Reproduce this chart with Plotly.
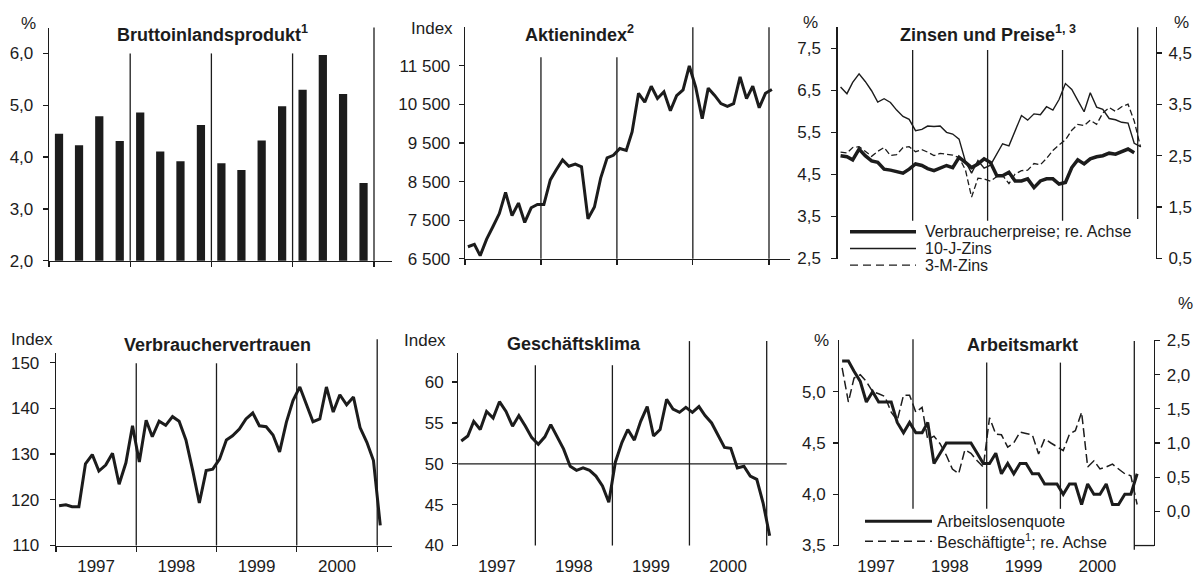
import plotly.graph_objects as go
import pandas as pd

W, H = 1197, 574          # target picture size
HF = 600                  # figure height (extra room below)
INK = "#1c1c1c"
FONT = "Liberation Sans, Arial, Helvetica, sans-serif"

# ---------------- data ----------------
quarters = pd.date_range("1997-01-01", periods=16, freq="QS") + pd.Timedelta(days=45)
months49 = pd.date_range("1997-01-01", periods=49, freq="MS") + pd.Timedelta(days=14)
months48 = months49[:48]
year_starts = pd.date_range("1997-01-01", periods=5, freq="YS")

gdp = [4.45, 4.23, 4.79, 4.31, 4.86, 4.11, 3.92, 4.62,
       3.88, 3.75, 4.32, 4.98, 5.30, 5.97, 5.22, 3.50]

aktien = [6813, 6877, 6584, 7009, 7331, 7673, 8223, 7622, 7945, 7442, 7823, 7908,
          7907, 8546, 8800, 9063, 8900, 8952, 8883, 7539, 7843, 8592, 9117, 9181,
          9359, 9307, 9786, 10789, 10560, 10971, 10655, 10829, 10337, 10729, 10878, 11497,
          10941, 10128, 10922, 10734, 10522, 10448, 10522, 11215, 10651, 10971, 10415, 10788,
          10887]

zins10 = [6.58, 6.42, 6.69, 6.89, 6.71, 6.49, 6.22, 6.30, 6.21, 6.03, 5.88, 5.81,
          5.54, 5.57, 5.65, 5.64, 5.65, 5.50, 5.46, 5.34, 4.81, 4.53, 4.83, 4.65,
          4.72, 5.00, 5.23, 5.18, 5.54, 5.90, 5.79, 5.94, 5.92, 6.11, 6.03, 6.28,
          6.66, 6.52, 6.26, 5.99, 6.44, 6.10, 6.05, 5.83, 5.80, 5.74, 5.72, 5.24,
          5.16]

zins3 = [5.03, 5.01, 5.14, 5.16, 5.05, 4.93, 5.05, 5.14, 4.95, 4.97, 5.14, 5.16,
         5.04, 5.09, 5.03, 4.95, 5.00, 4.98, 4.96, 4.90, 4.61, 3.96, 4.41, 4.39,
         4.34, 4.45, 4.48, 4.28, 4.51, 4.59, 4.60, 4.76, 4.73, 4.88, 5.07, 5.20,
         5.32, 5.55, 5.69, 5.66, 5.79, 5.69, 5.96, 6.09, 6.00, 6.11, 6.17, 5.77,
         5.15]

cpi = [2.50, 2.48, 2.42, 2.63, 2.50, 2.40, 2.37, 2.24, 2.22, 2.19, 2.16, 2.24,
       2.34, 2.31, 2.25, 2.21, 2.26, 2.31, 2.27, 2.47, 2.37, 2.27, 2.34, 2.44,
       2.37, 2.11, 2.11, 2.18, 2.01, 2.01, 2.05, 1.88, 2.01, 2.05, 2.05, 1.95,
       1.98, 2.27, 2.42, 2.34, 2.44, 2.48, 2.50, 2.55, 2.53, 2.58, 2.63, 2.56]

vertrauen = [118.7, 118.9, 118.5, 118.5, 127.9, 129.9, 126.3, 127.6, 130.2, 123.4, 128.1, 136.2,
             128.3, 137.4, 133.8, 137.2, 136.3, 138.2, 137.2, 133.1, 126.4, 119.3, 126.4, 126.7,
             128.9, 133.1, 134.0, 135.5, 137.7, 139.0, 136.2, 136.0, 134.2, 130.5, 137.0, 141.7,
             144.7, 140.8, 137.1, 137.7, 144.7, 139.2, 143.0, 140.8, 142.5, 135.8, 132.6, 128.6,
             114.4]

klima = [52.8, 53.4, 55.2, 54.2, 56.4, 55.6, 57.6, 56.4, 54.6, 55.9, 54.6, 53.2,
         52.4, 53.3, 54.8, 53.2, 51.8, 49.7, 49.2, 49.5, 49.2, 48.5, 47.3, 45.3,
         50.2, 52.6, 54.2, 52.9, 55.2, 57.0, 53.4, 54.2, 57.9, 56.7, 56.3, 56.9,
         56.3, 57.0, 55.9, 55.0, 53.6, 52.0, 51.9, 49.5, 49.7, 48.5, 48.1, 45.2,
         41.2]

alq = [5.3, 5.3, 5.2, 5.1, 4.9, 5.0, 4.9, 4.9, 4.9, 4.7, 4.6, 4.7,
       4.6, 4.6, 4.7, 4.3, 4.4, 4.5, 4.5, 4.5, 4.5, 4.5, 4.4, 4.3,
       4.3, 4.4, 4.2, 4.3, 4.2, 4.3, 4.3, 4.2, 4.2, 4.1, 4.1, 4.1,
       4.0, 4.1, 4.1, 3.9, 4.1, 4.0, 4.0, 4.1, 3.9, 3.9, 4.0, 4.0,
       4.2]

besch = [2.10, 1.60, 1.95, 2.00, 1.90, 1.75, 1.72, 1.68, 1.45, 1.33, 1.70, 1.70,
         1.45, 1.52, 1.05, 1.10, 0.99, 0.82, 0.62, 0.55, 0.90, 0.85, 0.74, 0.65,
         1.37, 1.13, 1.12, 0.94, 1.00, 1.16, 1.14, 1.12, 0.84, 1.06, 1.00, 0.94,
         0.89, 1.13, 1.18, 1.45, 0.65, 0.74, 0.62, 0.65, 0.69, 0.62, 0.55, 0.52,
         0.10]

# tick labels
t_gdp_v = [2, 3, 4, 5, 6]; t_gdp_t = ["2,0", "3,0", "4,0", "5,0", "6,0"]
t_akt_v = [6500, 7500, 8500, 9500, 10500, 11500]
t_akt_t = ["6 500", "7 500", "8 500", "9 500", "10 500", "11 500"]
t_zl_v = [2.5, 3.5, 4.5, 5.5, 6.5, 7.5]; t_zl_t = ["2,5", "3,5", "4,5", "5,5", "6,5", "7,5"]
t_zr_v = [0.5, 1.5, 2.5, 3.5, 4.5]; t_zr_t = ["0,5", "1,5", "2,5", "3,5", "4,5"]
t_vv_v = [110, 120, 130, 140, 150]; t_vv_t = ["110", "120", "130", "140", "150"]
t_gk_v = [40, 45, 50, 55, 60]; t_gk_t = ["40", "45", "50", "55", "60"]
t_al_v = [3.5, 4.0, 4.5, 5.0]; t_al_t = ["3,5", "4,0", "4,5", "5,0"]
t_ar_v = [0.0, 0.5, 1.0, 1.5, 2.0, 2.5]; t_ar_t = ["0,0", "0,5", "1,0", "1,5", "2,0", "2,5"]

titles = ["Bruttoinlandsprodukt<sup>1</sup>", "Aktienindex<sup>2</sup>",
          "Zinsen und Preise<sup>1, 3</sup>", "Verbrauchervertrauen",
          "Geschäftsklima", "Arbeitsmarkt"]
legend3 = ["Verbraucherpreise; re. Achse", "10-J-Zins", "3-M-Zins"]
legend6 = ["Arbeitslosenquote", "Beschäftigte<sup>1</sup>; re. Achse"]

# ---------------- geometry (target pixels) ----------------
# left px, right px, px per year, top px, bottom px
panels = [
    (49.0, 392.0, 81.25, 27.0, 260.0),
    (465.0, 790.0, 76.0, 26.7, 258.0),
    (837.7, 1155.7, 75.0, 26.7, 257.7),
    (56.0, 391.7, 80.3, 351.7, 544.3),
    (458.3, 786.7, 77.1, 351.7, 544.3),
    (839.3, 1154.0, 73.75, 339.5, 544.3),
]
yranges = [[2.0, 6.5], [6500, 12500], [2.5, 8.0], [110, 152.2], [40, 63.6], [3.5, 5.5]]

# the photographed page maps figure y -> 8.5 + 0.967*y; compensate
OFF, SC = 8.5, 0.967


def fy_px(y):
    return (y - OFF) / SC


start = pd.Timestamp("1997-01-01")


def xr(p):
    l, r, ppy, _, _ = p
    return [start, start + pd.Timedelta(days=365.25 * (r - l) / ppy)]


def dx(p):
    return [p[0] / W, p[1] / W]


def dy(p):
    return [1 - fy_px(p[4]) / HF, 1 - fy_px(p[3]) / HF]


fig = go.Figure()

fig.add_trace(go.Bar(x=quarters, y=gdp, marker_color=INK, marker_line_width=0,
                     width=37 * 24 * 3600 * 1000, xaxis="x", yaxis="y"))
fig.add_trace(go.Scatter(x=months49, y=aktien, mode="lines", line=dict(color=INK, width=3),
                         xaxis="x2", yaxis="y2"))
fig.add_trace(go.Scatter(x=months49, y=zins10, mode="lines", line=dict(color=INK, width=1.4),
                         xaxis="x3", yaxis="y3"))
fig.add_trace(go.Scatter(x=months49, y=zins3, mode="lines",
                         line=dict(color=INK, width=1.3, dash="6px,3px"),
                         xaxis="x3", yaxis="y3"))
fig.add_trace(go.Scatter(x=months48, y=cpi, mode="lines", line=dict(color=INK, width=3.5),
                         xaxis="x3", yaxis="y7"))
fig.add_trace(go.Scatter(x=months49, y=vertrauen, mode="lines", line=dict(color=INK, width=3),
                         xaxis="x4", yaxis="y4"))
fig.add_trace(go.Scatter(x=months49, y=klima, mode="lines", line=dict(color=INK, width=3),
                         xaxis="x5", yaxis="y5"))
fig.add_trace(go.Scatter(x=months49, y=besch, mode="lines",
                         line=dict(color=INK, width=1.5, dash="9px,4px"),
                         xaxis="x6", yaxis="y8"))
fig.add_trace(go.Scatter(x=months49, y=alq, mode="lines", line=dict(color=INK, width=3),
                         xaxis="x6", yaxis="y6"))

tickfont = dict(family=FONT, size=17, color=INK)
layout = dict(width=W, height=HF, autosize=False, margin=dict(l=0, r=0, t=0, b=0, pad=0),
              paper_bgcolor="white", plot_bgcolor="rgba(0,0,0,0)",
              showlegend=False, font=dict(family=FONT, color=INK), hovermode=False)

xline = [True, True, False, True, False, False]
xtickcol = [INK, INK, "rgba(0,0,0,0)", INK, "rgba(0,0,0,0)", "rgba(0,0,0,0)"]
ytv = [(t_gdp_v, t_gdp_t), (t_akt_v, t_akt_t), (t_zl_v, t_zl_t),
       (t_vv_v, t_vv_t), (t_gk_v, t_gk_t), (t_al_v, t_al_t)]
ystand = [6, 5, 7, 7, 5, 4]

for i, p in enumerate(panels):
    n = "" if i == 0 else str(i + 1)
    layout["xaxis" + n] = dict(
        domain=dx(p), range=xr(p), type="date", anchor="y" + n,
        showgrid=False, zeroline=False, showline=xline[i], linecolor=INK, linewidth=1.3,
        tickmode="linear", tick0="1997-01-01", dtick="M12", tickformat="%Y",
        ticklabelmode="period", ticks="outside", ticklen=5, tickwidth=1.3,
        tickcolor=xtickcol[i], showticklabels=(i >= 3), tickfont=tickfont,
        fixedrange=True)
    layout["yaxis" + n] = dict(
        domain=dy(p), range=yranges[i], anchor="x" + n,
        showgrid=False, zeroline=False, showline=True, linecolor=INK, linewidth=1.3,
        tickmode="array", tickvals=ytv[i][0], ticktext=ytv[i][1],
        ticks="outside", ticklen=5, tickwidth=1.3, tickcolor=INK,
        ticklabelstandoff=ystand[i], tickfont=tickfont, fixedrange=True)

layout["yaxis7"] = dict(overlaying="y3", side="right", anchor="x3", range=[0.5, 5.0],
                        showgrid=False, zeroline=False, showline=True, linecolor=INK,
                        linewidth=1.3, tickmode="array", tickvals=t_zr_v, ticktext=t_zr_t,
                        ticks="outside", ticklen=5, tickwidth=1.3, tickcolor=INK,
                        ticklabelstandoff=3, tickfont=tickfont)
layout["yaxis8"] = dict(overlaying="y6", side="right", anchor="x6", range=[-0.5, 2.5],
                        showgrid=False, zeroline=False, showline=True, linecolor=INK,
                        linewidth=1.3, tickmode="array", tickvals=t_ar_v, ticktext=t_ar_t,
                        ticks="outside", ticklen=5, tickwidth=1.3, tickcolor=INK,
                        ticklabelstandoff=3, tickfont=tickfont)

fig.update_layout(**layout)

# ---------------- year divider lines ----------------
# per panel: (y0, y1) in domain fractions for 1998, 1999, 2000, 2001
dividers = [
    [(0, 0.889), (0, 0.889), (0, 0.889), (0, 1.0)],
    [(0, 0.870), (0, 0.870), (0, 1.0), (0, 1.0)],
    [(0.163, 0.902), (0.163, 0.902), (0.163, 0.902), (0.171, 1.0)],
    [(0, 0.945), (0, 0.945), (0, 0.945), (0, 1.07)],
    [(0, 0.935), (0, 0.935), (0, 1.06), (0, 1.06)],
    [(0.179, 1.006), (0.179, 0.892), (0.179, 0.892), (-0.02, 0.997)],
]
shapes = []
for i, divs in enumerate(dividers):
    n = "" if i == 0 else str(i + 1)
    for yr, (a, b) in zip(year_starts[1:], divs):
        shapes.append(dict(type="line", xref="x" + n, yref="y" + n + " domain",
                           x0=yr, x1=yr, y0=a, y1=b, line=dict(color=INK, width=1.3),
                           layer="above"))

# horizontal 50-line in Geschäftsklima
shapes.append(dict(type="line", xref="x5 domain", yref="y5", x0=0, x1=1, y0=50, y1=50,
                   line=dict(color=INK, width=1.3)))
# bottom segment 2001 -> right axis in Arbeitsmarkt
shapes.append(dict(type="line", xref="x6", yref="y6 domain", x0=year_starts[4],
                   x1=xr(panels[5])[1], y0=0, y1=0, line=dict(color=INK, width=1.3)))


def px(xp):
    return xp / W


def py(yp):
    return 1 - fy_px(yp) / HF


# custom legends (sample lines)
leg3_rows = [(231.0, 3.5, "solid"), (247.7, 1.4, "solid"), (264.3, 1.3, "8px,5px")]
for (yy, w, d) in leg3_rows:
    shapes.append(dict(type="line", xref="paper", yref="paper", x0=px(850), x1=px(916),
                       y0=py(yy), y1=py(yy), line=dict(color=INK, width=w, dash=d)))
leg6_rows = [(520.0, 3.0, "solid"), (540.0, 1.5, "8px,5px")]
for (yy, w, d) in leg6_rows:
    shapes.append(dict(type="line", xref="paper", yref="paper", x0=px(865), x1=px(932),
                       y0=py(yy), y1=py(yy), line=dict(color=INK, width=w, dash=d)))

fig.update_layout(shapes=shapes)

ann = []


def text(x, y, s, size=17, bold=False, xanchor="center"):
    ann.append(dict(x=px(x), y=py(y), xref="paper", yref="paper", text=("<b>%s</b>" % s) if bold else s,
                    showarrow=False, xanchor=xanchor, yanchor="middle",
                    font=dict(family=FONT, size=size, color=INK)))


title_pos = [(115, 33.3), (523, 33.3), (898, 33.3), (121.7, 344.3), (505, 343.5), (965, 344.3)]
for t, (x, y) in zip(titles, title_pos):
    text(x, y, t, size=18, bold=True, xanchor="left")

units = [(28.3, 22.5, "%"), (431.7, 28.3, "Index"), (810.5, 21.5, "%"), (1181.5, 21.5, "%"),
         (31.7, 339.0, "Index"), (425.0, 340.0, "Index"), (821.7, 340.0, "%"), (1185.0, 303.0, "%")]
for (x, y, s) in units:
    text(x, y, s, size=17)

for (yy, _, _), s in zip(leg3_rows, legend3):
    text(923, yy, s, size=16, xanchor="left")
for (yy, _, _), s in zip(leg6_rows, legend6):
    text(935, yy, s, size=16, xanchor="left")

fig.update_layout(annotations=ann)

post = ("document.documentElement.style.margin='0';"
        "document.body.style.margin='0';document.body.style.overflow='hidden';"
        "var d=document.getElementById('{plot_id}');"
        "d.style.position='fixed';d.style.left='0px';d.style.top='0px';")
fig.write_html("out.html", config={"responsive": False, "displayModeBar": False,
                                   "staticPlot": True},
               post_script=post)
